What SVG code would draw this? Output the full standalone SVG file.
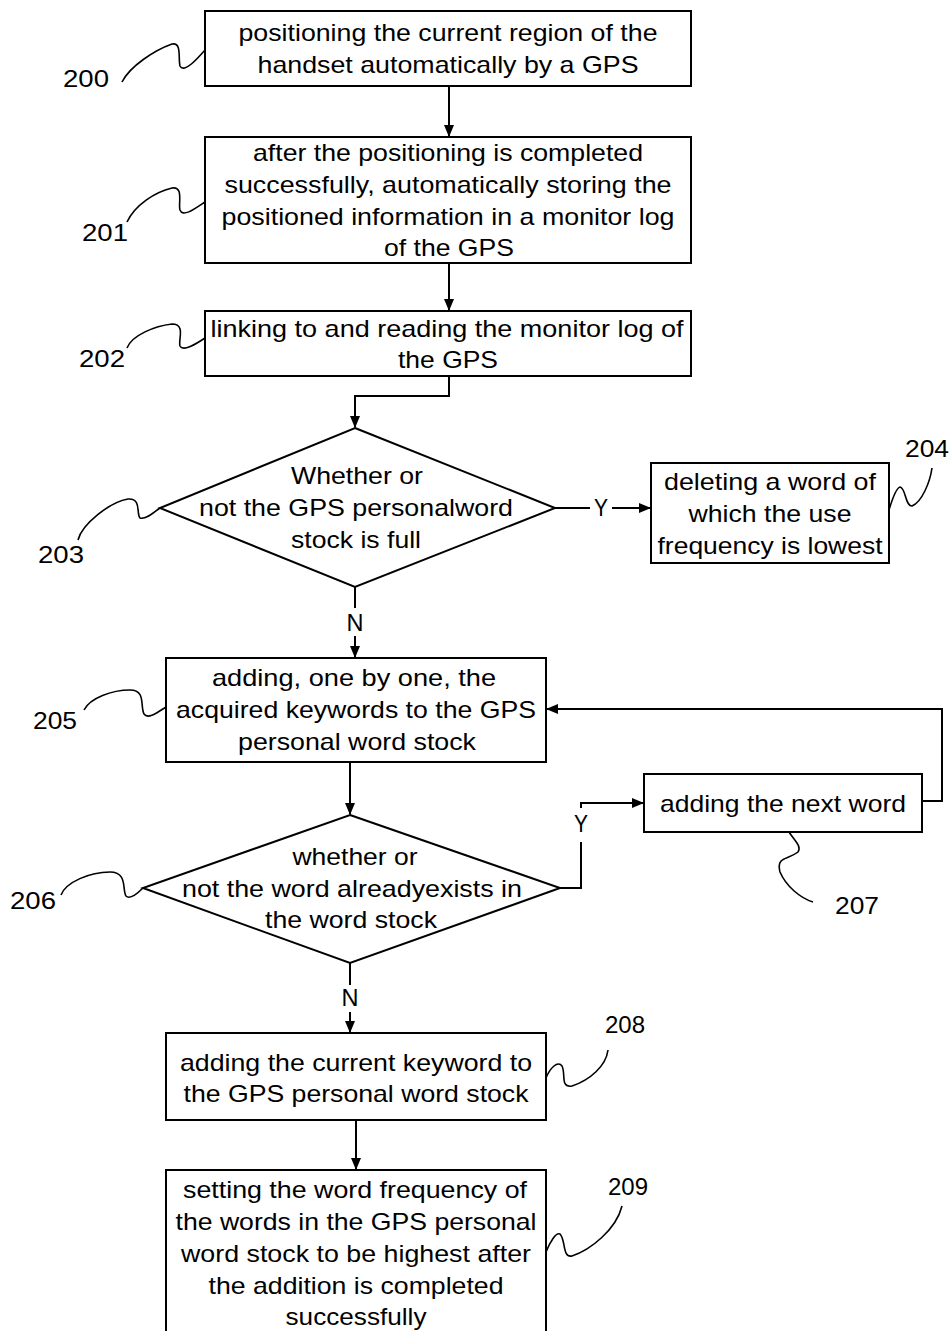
<svg xmlns="http://www.w3.org/2000/svg" width="952" height="1331" viewBox="0 0 952 1331">
<style>
.box{fill:#fff;stroke:#000;stroke-width:2}
.ln{fill:none;stroke:#000;stroke-width:2}
.lead{fill:none;stroke:#000;stroke-width:1.6}
text{font-family:"Liberation Sans",Arial,sans-serif;font-size:24px;fill:#000;text-anchor:middle}
.num{text-anchor:start}
</style>
<defs>
<marker id="ah" markerWidth="12" markerHeight="12" refX="11" refY="6" orient="auto" markerUnits="userSpaceOnUse">
<path d="M0,1 L12,6 L0,11 z" fill="#000"/>
</marker>
</defs>
<rect width="952" height="1331" fill="#fff"/>
<g id="connectors">
<path class="ln" d="M449,86 V136" marker-end="url(#ah)"/>
<path class="ln" d="M449,263 V310" marker-end="url(#ah)"/>
<path class="ln" d="M449,376 V396 H355 V427" marker-end="url(#ah)"/>
<path class="ln" d="M555,508 H590"/>
<text x="601" y="516" textLength="14" lengthAdjust="spacingAndGlyphs">Y</text>
<path class="ln" d="M612,508 H650" marker-end="url(#ah)"/>
<path class="ln" d="M355,587 V608"/>
<text x="355" y="631" textLength="17" lengthAdjust="spacingAndGlyphs">N</text>
<path class="ln" d="M355,636 V657" marker-end="url(#ah)"/>
<path class="ln" d="M350,762 V814" marker-end="url(#ah)"/>
<path class="ln" d="M560,888 H581 V842"/>
<text x="581" y="832" textLength="14" lengthAdjust="spacingAndGlyphs">Y</text>
<path class="ln" d="M581,808 V803 H643" marker-end="url(#ah)"/>
<path class="ln" d="M922,801 H942 V709 H547" marker-end="url(#ah)"/>
<path class="ln" d="M350,963 V985"/>
<text x="350" y="1006" textLength="17" lengthAdjust="spacingAndGlyphs">N</text>
<path class="ln" d="M350,1012 V1032" marker-end="url(#ah)"/>
<path class="ln" d="M356,1120 V1169" marker-end="url(#ah)"/>
</g>
<g id="n200">
<rect class="box" x="205" y="11" width="486" height="75"/>
<text x="448" y="41" textLength="419" lengthAdjust="spacingAndGlyphs">positioning the current region of the</text>
<text x="448" y="73" textLength="381" lengthAdjust="spacingAndGlyphs">handset automatically by a GPS</text>
<path class="lead" d="M122,82 C130,66 155,50 172,44 C182,42 178,58 180,66 C184,74 198,58 205,50"/>
<text class="num" x="63" y="87" textLength="46" lengthAdjust="spacingAndGlyphs">200</text>
</g>
<g id="n201">
<rect class="box" x="205" y="137" width="486" height="126"/>
<text x="448" y="161" textLength="390" lengthAdjust="spacingAndGlyphs">after the positioning is completed</text>
<text x="448" y="193" textLength="447" lengthAdjust="spacingAndGlyphs">successfully, automatically storing the</text>
<text x="448" y="225" textLength="453" lengthAdjust="spacingAndGlyphs">positioned information in a monitor log</text>
<text x="449" y="256" textLength="130" lengthAdjust="spacingAndGlyphs">of the GPS</text>
<path class="lead" d="M127,222 C135,205 155,192 172,188 C184,186 178,204 180,210 C183,218 196,208 205,202"/>
<text class="num" x="82" y="241" textLength="46" lengthAdjust="spacingAndGlyphs">201</text>
</g>
<g id="n202">
<rect class="box" x="205" y="311" width="486" height="65"/>
<text x="447" y="337" textLength="473" lengthAdjust="spacingAndGlyphs">linking to and reading the monitor log of</text>
<text x="448" y="368" textLength="100" lengthAdjust="spacingAndGlyphs">the GPS</text>
<path class="lead" d="M127,348 C132,335 155,326 172,324 C186,324 178,340 180,346 C183,352 196,344 205,338"/>
<text class="num" x="79" y="367" textLength="46" lengthAdjust="spacingAndGlyphs">202</text>
</g>
<g id="n203">
<polygon class="box" points="355,428 555,508 355,587 160,508"/>
<text x="357" y="484" textLength="132" lengthAdjust="spacingAndGlyphs">Whether or</text>
<text x="356" y="516" textLength="314" lengthAdjust="spacingAndGlyphs">not the GPS personalword</text>
<text x="356" y="548" textLength="130" lengthAdjust="spacingAndGlyphs">stock is full</text>
<path class="lead" d="M78,540 C82,524 110,502 128,499 C142,498 136,514 140,518 C146,520 154,512 160,508"/>
<text class="num" x="38" y="563" textLength="46" lengthAdjust="spacingAndGlyphs">203</text>
</g>
<g id="n204">
<rect class="box" x="651" y="463" width="238" height="100"/>
<text x="770" y="490" textLength="212" lengthAdjust="spacingAndGlyphs">deleting a word of</text>
<text x="770" y="522" textLength="163" lengthAdjust="spacingAndGlyphs">which the use</text>
<text x="770" y="554" textLength="225" lengthAdjust="spacingAndGlyphs">frequency is lowest</text>
<path class="lead" d="M889,510 C892,500 896,488 900,487 C906,488 905,506 912,506 C922,502 930,482 932,468"/>
<text class="num" x="905" y="457" textLength="44" lengthAdjust="spacingAndGlyphs">204</text>
</g>
<g id="n205">
<rect class="box" x="166" y="658" width="380" height="104"/>
<text x="354" y="686" textLength="284" lengthAdjust="spacingAndGlyphs">adding, one by one, the</text>
<text x="356" y="718" textLength="360" lengthAdjust="spacingAndGlyphs">acquired keywords to the GPS</text>
<text x="357" y="750" textLength="238" lengthAdjust="spacingAndGlyphs">personal word stock</text>
<path class="lead" d="M84,710 C90,698 112,690 130,690 C146,690 140,706 144,714 C148,720 158,712 166,707"/>
<text class="num" x="33" y="729" textLength="44" lengthAdjust="spacingAndGlyphs">205</text>
</g>
<g id="n206">
<polygon class="box" points="350,815 560,888 350,963 143,888"/>
<text x="355" y="865" textLength="125" lengthAdjust="spacingAndGlyphs">whether or</text>
<text x="352" y="897" textLength="340" lengthAdjust="spacingAndGlyphs">not the word alreadyexists in</text>
<text x="351" y="928" textLength="172" lengthAdjust="spacingAndGlyphs">the word stock</text>
<path class="lead" d="M61,895 C66,882 90,872 110,872 C128,872 122,890 126,896 C130,900 138,893 143,888"/>
<text class="num" x="10" y="909" textLength="46" lengthAdjust="spacingAndGlyphs">206</text>
</g>
<g id="n207">
<rect class="box" x="644" y="774" width="278" height="58"/>
<text x="783" y="812" textLength="246" lengthAdjust="spacingAndGlyphs">adding the next word</text>
<path class="lead" d="M789,832 C794,840 802,846 798,852 C788,860 776,856 780,872 C786,886 800,898 813,902"/>
<text class="num" x="835" y="914" textLength="44" lengthAdjust="spacingAndGlyphs">207</text>
</g>
<g id="n208">
<rect class="box" x="166" y="1033" width="380" height="87"/>
<text x="356" y="1071" textLength="352" lengthAdjust="spacingAndGlyphs">adding the current keyword to</text>
<text x="356" y="1102" textLength="345" lengthAdjust="spacingAndGlyphs">the GPS personal word stock</text>
<path class="lead" d="M546,1078 C550,1068 558,1060 562,1066 C566,1074 560,1088 572,1086 C590,1080 606,1066 608,1050"/>
<text x="625" y="1033">208</text>
</g>
<g id="n209">
<rect class="box" x="166" y="1170" width="380" height="170"/>
<text x="355" y="1198" textLength="344" lengthAdjust="spacingAndGlyphs">setting the word frequency of</text>
<text x="356" y="1230" textLength="361" lengthAdjust="spacingAndGlyphs">the words in the GPS personal</text>
<text x="356" y="1262" textLength="350" lengthAdjust="spacingAndGlyphs">word stock to be highest after</text>
<text x="356" y="1294" textLength="295" lengthAdjust="spacingAndGlyphs">the addition is completed</text>
<text x="356" y="1325" textLength="141" lengthAdjust="spacingAndGlyphs">successfully</text>
<path class="lead" d="M546,1252 C550,1242 556,1232 560,1234 C566,1240 562,1258 572,1256 C590,1250 616,1230 622,1206"/>
<text x="628" y="1195">209</text>
</g>
</svg>
